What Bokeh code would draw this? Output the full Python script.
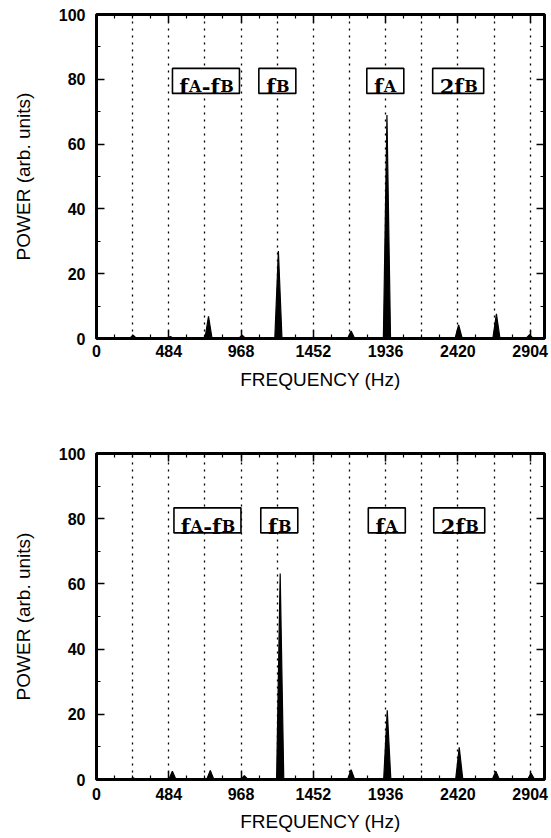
from bokeh.plotting import figure
from bokeh.layouts import column
from bokeh.models import ColumnDataSource, LinearAxis, FixedTicker, Range1d
from bokeh.core.properties import value
from bokeh.embed import file_html
from bokeh.resources import INLINE

# ---------------- data ----------------
freq_ticks = [0, 484, 968, 1452, 1936, 2420, 2904]
freq_minor = [121, 242, 363, 605, 726, 847, 1089, 1210, 1331, 1573, 1694, 1815,
              2057, 2178, 2299, 2541, 2662, 2783]
grid_freqs = [242, 484, 726, 968, 1210, 1452, 1694, 1936, 2178, 2420, 2662, 2904]
power_ticks = [0, 20, 40, 60, 80, 100]
power_minor = [10, 30, 50, 70, 90]

top_peak_freq = [245, 495, 750, 975, 1218, 1705, 1945, 2425, 2678, 2900]
top_peak_power = [1.0, 0.6, 6.8, 1.0, 27.0, 2.3, 69.0, 4.2, 7.6, 1.2]

bottom_peak_freq = [245, 508, 762, 990, 1230, 1705, 1947, 2429, 2674, 2910]
bottom_peak_power = [0.5, 2.5, 2.8, 1.2, 63.2, 3.0, 21.2, 9.9, 2.5, 1.9]

label_names = ["fA-fB", "fB", "fA", "2fB"]
top_label_freq = [733, 1211, 1934, 2422]
bottom_label_freq = [743, 1224, 1944, 2429]
label_power = [79.5, 79.5, 79.5, 79.5]

# ---------------- styling ----------------
X_MAX = 3000
PEAK_HALF_WIDTH = 24
BIG, SMALL = 21, 16
EM = {"f": 0.47, "A": 0.80, "B": 0.78, "-": 0.41, "2": 0.70}
BOX_W = [67, 37, 37, 51]
BOX_H = 25
SERIF = "DejaVu Serif"
SANS = "Liberation Sans"


def style_ticks(ax):
    ax.axis_line_color = None
    ax.major_tick_in = 8
    ax.major_tick_out = 0
    ax.minor_tick_in = 4
    ax.minor_tick_out = 0
    ax.major_tick_line_width = 1.5
    ax.minor_tick_line_width = 1.2


def make_panel(peak_freq, peak_power, label_freq, height, top_border, bottom_border,
               x_label_standoff, x_title_standoff):
    p = figure(width=549, height=height,
               min_border_left=96, min_border_right=5,
               min_border_top=top_border, min_border_bottom=bottom_border,
               x_range=Range1d(0, X_MAX), y_range=Range1d(0, 100),
               output_backend="svg", toolbar_location=None,
               x_axis_label="FREQUENCY (Hz)", y_axis_label="POWER (arb. units)")
    p.outline_line_color = "black"
    p.outline_line_width = 3
    p.background_fill_color = "white"
    p.border_fill_color = "white"

    # grid: dotted verticals every 242 Hz
    p.xgrid.ticker = FixedTicker(ticks=grid_freqs)
    p.xgrid.grid_line_color = "black"
    p.xgrid.grid_line_dash = "2 5"
    p.xgrid.grid_line_width = 1.3
    p.ygrid.visible = False

    # axes
    xax = p.xaxis[0]
    xax.ticker = FixedTicker(ticks=freq_ticks, minor_ticks=freq_minor)
    yax = p.yaxis[0]
    yax.ticker = FixedTicker(ticks=power_ticks, minor_ticks=power_minor)
    for ax in (xax, yax):
        style_ticks(ax)
        ax.major_label_text_font = SANS
        ax.major_label_text_font_style = "bold"
        ax.major_label_text_font_size = "16px"
        ax.major_label_text_color = "black"
        ax.axis_label_text_font = SANS
        ax.axis_label_text_font_style = "normal"
        ax.axis_label_text_font_size = "19px"
        ax.axis_label_text_color = "black"
    xax.major_label_standoff = x_label_standoff
    xax.axis_label_standoff = x_title_standoff
    yax.major_label_standoff = 11
    yax.axis_label_standoff = 22

    top_ax = LinearAxis(ticker=FixedTicker(ticks=freq_ticks, minor_ticks=freq_minor))
    right_ax = LinearAxis(ticker=FixedTicker(ticks=power_ticks, minor_ticks=power_minor))
    for ax in (top_ax, right_ax):
        style_ticks(ax)
        ax.major_label_text_color = None
        ax.major_label_text_font_size = "2px"
        ax.major_label_standoff = 0
    p.add_layout(top_ax, "above")
    p.add_layout(right_ax, "right")

    # spectral peaks as narrow spikes
    xs = [[f - PEAK_HALF_WIDTH, f, f + PEAK_HALF_WIDTH] for f in peak_freq]
    ys = [[0, h, 0] for h in peak_power]
    p.patches(xs=xs, ys=ys, fill_color="black", line_color="black", line_width=1.2)
    # thick baseline
    p.line(x=[0, X_MAX], y=[0, 0], line_color="black", line_width=3)

    # labelled boxes
    p.rect(x=label_freq, y=label_power, width=BOX_W, height=BOX_H,
           width_units="screen", height_units="screen",
           fill_color="white", line_color="black", line_width=1.6)

    big = dict(x=[], y=[], text=[], off=[])
    small = dict(x=[], y=[], text=[], off=[])
    for name, fx, py in zip(label_names, label_freq, label_power):
        segs = [(ch, SMALL if ch.isupper() else BIG) for ch in name]
        widths = [EM[ch] * size for ch, size in segs]
        cur = -sum(widths) / 2
        for (ch, size), w in zip(segs, widths):
            d = small if size == SMALL else big
            d["x"].append(fx)
            d["y"].append(py)
            d["text"].append(ch)
            d["off"].append(cur)
            cur += w
    p.text(x="x", y="y", text="text", x_offset="off", y_offset=6,
           source=ColumnDataSource(big), text_font=value(SERIF),
           text_font_size=f"{BIG}px", text_font_style="bold",
           text_baseline="alphabetic", text_align="left", text_color="black")
    p.text(x="x", y="y", text="text", x_offset="off", y_offset=6,
           source=ColumnDataSource(small), text_font=value(SERIF),
           text_font_size=f"{SMALL}px", text_font_style="bold",
           text_baseline="alphabetic", text_align="left", text_color="black")
    return p


p1 = make_panel(top_peak_freq, top_peak_power, top_label_freq, 433, 14, 95, 6, 9)
p2 = make_panel(bottom_peak_freq, bottom_peak_power, bottom_label_freq, 404, 20, 58, 8, 8)

layout = column(p1, p2, spacing=0)
open("out.html", "w").write(file_html(layout, INLINE))
